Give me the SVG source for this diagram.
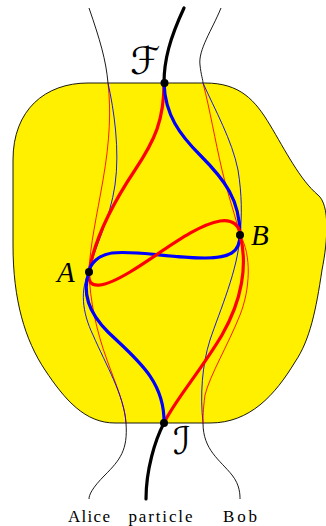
<svg xmlns="http://www.w3.org/2000/svg" width="326" height="526" viewBox="0 0 326 526">
<style>
.region{fill:#fff000;stroke:#000;stroke-width:0.9}
.thin{fill:none;stroke-width:0.9}
.thick{fill:none;stroke-width:3.2;stroke-linecap:round}
.k{stroke:#000}
.r{stroke:#ff0000}
.b{stroke:#0000ff}
.dot{fill:#000}
.lbl{font-family:"Liberation Serif",serif;font-size:17px;fill:#000;text-anchor:middle}
.math{font-family:"Liberation Serif",serif;font-style:italic;font-size:29px;fill:#000}
.script{font-family:"DejaVu Serif","DejaVu Sans",serif;font-size:38px;fill:#000}
</style>
<g id="region">
<path class="region" d="M88,83 L205,83 C240,83 255,100 270,125 C285,150 300,180 318,195 C330,205 328,240 322,270 C316,310 310,340 295,362 C275,395 250,423 210,423 L115,423 C85,423 65,400 45,370 C25,340 13,300 13,245 L13,160 C13,110 45,83 88,83 Z"/>
</g>
<g id="connectors">
<path class="thin k" d="M89,8 C100,40 106,60 108,83"/>
<path class="thin k" d="M221,8 C212,30 198,50 200,65 C201,75 203,80 203,83"/>
<path class="thin k" d="M126,423 C128,450 120,460 105,475 C92,488 89,495 89,499"/>
<path class="thin k" d="M203,423 C203,450 220,460 232,475 C240,485 240,495 240,499"/>
<path class="thin r" d="M108,83 C111,110 110,140 103,180 C97,215 90,245 89,272"/>
<path class="thin b" d="M108,83 C114,110 120,150 115,185 C110,220 95,245 89,272"/>
<path class="thin r" d="M89,272 C90,300 96,330 107,360 C116,385 125,405 126,423"/>
<path class="thin b" d="M89,272 C80,290 82,312 93,335 C106,365 124,395 126,423"/>
<path class="thin r" d="M203,83 C210,110 215,140 222,170 C228,195 235,215 240,235"/>
<path class="thin b" d="M203,83 C215,110 232,140 238,170 C242,195 242,215 240,235"/>
<path class="thin b" d="M240,235 C238,270 220,310 210,340 C202,365 200,395 203,423"/>
<path class="thin r" d="M240,235 C252,255 250,290 240,315 C228,345 210,375 205,395 C203,410 203,418 203,423"/>
<path class="thick r" d="M164,83 C164,120 155,140 135,170 C115,200 95,235 89,272"/>
<path class="thick b" d="M164,83 C165,115 180,135 200,155 C225,180 240,200 240,235"/>
<path class="thick b" d="M240,235 C240,252 230,258 205,258 C170,258 135,250 112,253 C98,255 90,264 89,272"/>
<path class="thick r" d="M89,272 C86,292 105,287 130,272 C160,254 195,225 220,221 C233,219 240,226 240,235"/>
<path class="thick r" d="M240,235 C248,265 242,300 222,335 C200,372 175,400 164,423"/>
<path class="thick b" d="M89,272 C82,292 88,312 108,332 C135,358 165,380 164,423"/>
<path class="thick k" d="M184,8 C170,38 164,60 164,83"/>
<path class="thick k" d="M164,423 C155,440 146,470 146,499"/>
</g>
<g id="F">
<circle class="dot" cx="164.5" cy="83" r="4"/>
<text class="script" x="130" y="74">ℱ</text>
</g>
<g id="I">
<circle class="dot" cx="164" cy="423" r="4"/>
<text class="script" x="173" y="454">ℐ</text>
</g>
<g id="A">
<circle class="dot" cx="89" cy="272" r="4"/>
<text class="math" x="57" y="282">A</text>
</g>
<g id="B">
<circle class="dot" cx="240" cy="235" r="4"/>
<text class="math" x="251" y="245">B</text>
</g>
<g id="labels">
<text class="lbl" x="89" y="522" textLength="42" lengthAdjust="spacing">Alice</text>
<text class="lbl" x="160.5" y="522" textLength="64" lengthAdjust="spacing">particle</text>
<text class="lbl" x="240" y="522" textLength="34" lengthAdjust="spacing">Bob</text>
</g>
</svg>
